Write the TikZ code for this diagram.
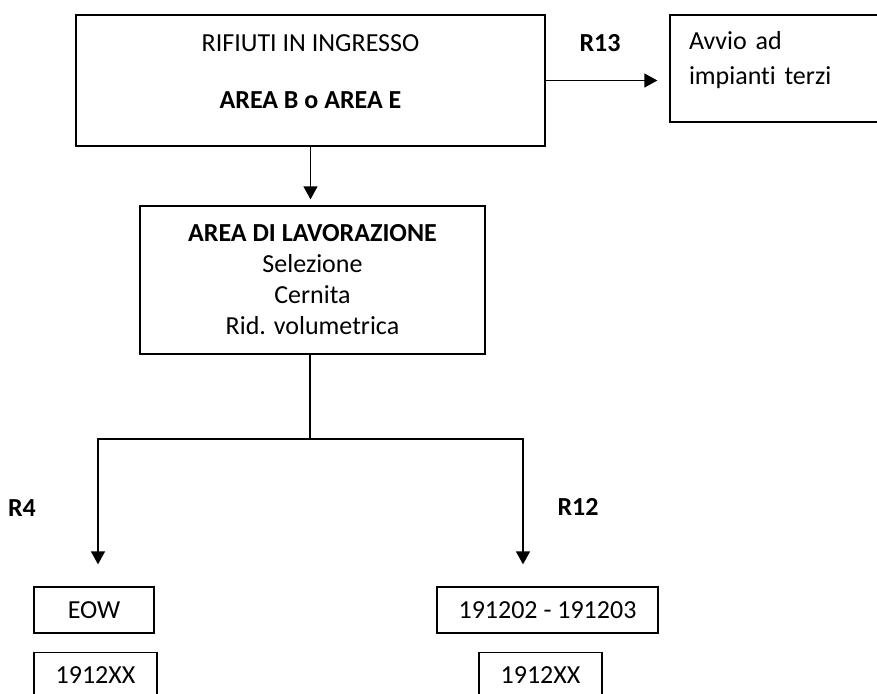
\documentclass[tikz,border=0pt]{standalone}
\usepackage{fontspec}
\setmainfont{Carlito}[Ligatures=NoCommon]
\usepackage{tikz}
\usetikzlibrary{
    positioning,
    arrows.meta,
    calc
}
\tikzset{
    box/.style={
        rectangle, draw, line width=1.3pt,
        inner sep=0pt, align=center,
        font=\fontsize{26}{31}\selectfont
    },
    arrow/.style={
        -{Triangle[length=13pt,width=14pt]}, line width=1.3pt
    },
    linea/.style={
        line width=1.3pt
    },
    etichetta/.style={
        inner sep=0pt, font=\fontsize{26}{31}\selectfont\bfseries
    }
}

\begin{document}
\begin{tikzpicture}[x=1pt,y=-1pt]
    \useasboundingbox (0,0) rectangle (877,693);

    \node[box, minimum width=469pt, minimum height=131pt] (ingresso) at (310.5,80.5)
        {RIFIUTI IN INGRESSO\\[26pt]\textbf{AREA B o AREA E}\\[-13pt]\mbox{}};
    \node[box, minimum width=230pt, minimum height=107pt, text width=192pt, align=left,
        font=\fontsize{26}{35}\selectfont] (avvio) at (785,68.5)
        {Avvio ad\\impianti terzi\\[-13pt]\mbox{}};
    \node[box, minimum width=345pt, minimum height=148pt] (lavorazione) at (312.5,280)
        {\textbf{AREA DI LAVORAZIONE}\\Selezione\\Cernita\\Rid. volumetrica};

    \node[box, minimum width=120pt, minimum height=46pt] (eow) at (94,610) {EOW};
    \node[box, minimum width=123pt, minimum height=46pt, below=18pt of eow, xshift=1.5pt] (codsx) {1912XX};
    \node[box, minimum width=221pt, minimum height=46pt] (cer) at (547.5,610) {191202 - 191203};
    \node[box, minimum width=123pt, minimum height=46pt, below=18pt of cer, xshift=-7pt] (coddx) {1912XX};

    \node[etichetta] (r13) at (600,43) {R13};
    \node[etichetta] (r4) at (22,508) {R4};
    \node[etichetta] (r12) at (578,507) {R12};

    % diramazione verso R4 / R12
    \coordinate (snodo) at (310,439);
    \coordinate (sx) at (98,439);
    \coordinate (dx) at (523,439);

    \draw[arrow, shorten >=6pt] (ingresso.south) -- (ingresso.south |- lavorazione.north);
    \draw[arrow, shorten >=12pt] (ingresso.east) -- (ingresso.east -| avvio.west);
    \draw[linea] (lavorazione.south -| snodo) -- (snodo);
    \draw[arrow, shorten >=22pt] (snodo) -| (sx |- eow.north);
    \draw[arrow, shorten >=22pt] (snodo) -| (dx |- cer.north);
\end{tikzpicture}
\end{document}
